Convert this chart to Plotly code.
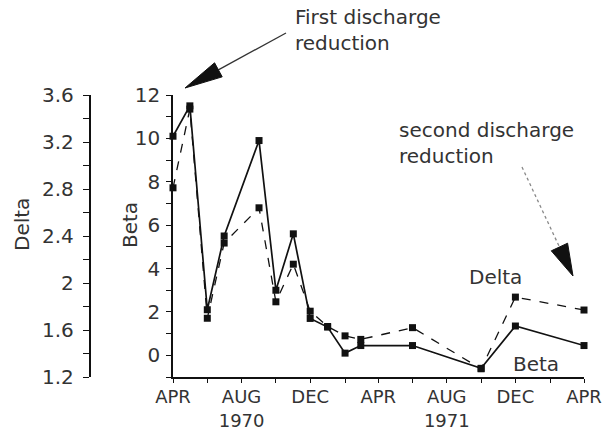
import plotly.graph_objects as go

# ---- data ----
dates = ["1970-04-01", "1970-05-01", "1970-06-01", "1970-07-01", "1970-09-01",
         "1970-10-01", "1970-11-01", "1970-12-01", "1971-01-01", "1971-02-01",
         "1971-03-01", "1971-06-01", "1971-10-01", "1971-12-01", "1972-04-01"]
beta = [10.1, 11.5, 2.1, 5.5, 9.9, 3.0, 5.6, 1.7, 1.3, 0.1, 0.45, 0.45, -0.6, 1.35, 0.45]
delta = [2.81, 3.48, 1.70, 2.34, 2.64, 1.84, 2.16, 1.76, 1.63, 1.55, 1.52, 1.62, 1.27, 1.88, 1.77]

x_tickvals = ["1970-04-01", "1970-08-01", "1970-12-01", "1971-04-01",
              "1971-08-01", "1971-12-01", "1972-04-01"]
x_ticktext = ["APR", "AUG<br>1970", "DEC", "APR", "AUG<br>1971", "DEC", "APR"]
beta_ticks = [0, 2, 4, 6, 8, 10, 12]
delta_ticks = [1.2, 1.6, 2.0, 2.4, 2.8, 3.2, 3.6]
delta_ticktext = ["1.2", "1.6", "2", "2.4", "2.8", "3.2", "3.6"]

W, H = 610, 429
FONT = "DejaVu Sans"
TXT = "#333333"
FS = 20

def px(x):
    return x / W

def py(y):
    return (H - y) / H

fig = go.Figure()
fig.add_trace(go.Scatter(
    x=dates, y=delta, yaxis="y2", mode="lines+markers", name="Delta",
    line=dict(color="#111111", width=1.3, dash="dash"),
    marker=dict(symbol="square", size=7, color="#111111"),
    cliponaxis=False))
fig.add_trace(go.Scatter(
    x=dates, y=beta, mode="lines+markers", name="Beta",
    line=dict(color="#111111", width=1.7),
    marker=dict(symbol="square", size=7, color="#111111"),
    cliponaxis=False))

axis_common = dict(showgrid=False, zeroline=False, showline=True, linecolor="#111111",
                   linewidth=1.5, ticks="outside", tickcolor="#111111", tickwidth=1)

fig.update_layout(
    width=W, height=H, margin=dict(l=0, r=0, t=0, b=0),
    paper_bgcolor="white", plot_bgcolor="white", showlegend=False,
    font=dict(family=FONT, size=FS, color=TXT),
    xaxis=dict(domain=[px(173), px(584)], range=["1970-04-01", "1972-04-01"],
               tickmode="array", tickvals=x_tickvals, ticktext=x_ticktext,
               ticklen=4, ticklabelstandoff=-1,
               tickfont=dict(family=FONT, size=18, color=TXT),
               minor=dict(tickvals=["1970-06-01", "1970-10-01", "1971-02-01",
                                    "1971-06-01", "1971-10-01", "1972-02-01"],
                          ticks="outside", ticklen=4, tickcolor="#111111"),
               automargin=False, **axis_common),
    yaxis=dict(domain=[py(377), py(95)], range=[-1, 12], tickmode="array",
               tickvals=beta_ticks, ticklen=5, ticklabelstandoff=2,
               tickfont=dict(family=FONT, size=FS, color=TXT),
               minor=dict(dtick=1, tick0=-1, ticks="outside", ticklen=5, tickcolor="#111111"),
               automargin=False, **axis_common),
    yaxis2=dict(overlaying="y", anchor="free", position=px(89.5), side="left",
                range=[1.2, 3.6], tickmode="array", tickvals=delta_ticks,
                ticktext=delta_ticktext, ticklen=6, ticklabelstandoff=5,
                tickfont=dict(family=FONT, size=FS, color=TXT),
                minor=dict(dtick=0.2, tick0=1.2, ticks="outside", ticklen=6, tickcolor="#111111"),
                automargin=False, **axis_common),
)

ann_font = dict(family=FONT, size=FS, color=TXT)
annotations = [
    dict(x=px(22), y=py(225), xref="paper", yref="paper", text="Delta", textangle=-90,
         xanchor="center", yanchor="middle", showarrow=False, font=ann_font),
    dict(x=px(130), y=py(225), xref="paper", yref="paper", text="Beta", textangle=-90,
         xanchor="center", yanchor="middle", showarrow=False, font=ann_font),
    dict(x=px(293), y=py(30), xref="paper", yref="paper", xanchor="left", yanchor="middle",
         align="left", text="First discharge<br>reduction", showarrow=False, font=ann_font),
    dict(x=px(397), y=py(143), xref="paper", yref="paper", xanchor="left", yanchor="middle",
         align="left", text="second discharge<br>reduction", showarrow=False, font=ann_font),
    dict(x=px(495), y=py(277), xref="paper", yref="paper", text="Delta",
         xanchor="center", yanchor="middle", showarrow=False, font=ann_font),
    dict(x=px(536), y=py(364), xref="paper", yref="paper", text="Beta",
         xanchor="center", yanchor="middle", showarrow=False, font=ann_font),
]
fig.update_layout(annotations=annotations)

# arrows (annotation decorations): shaft line + filled head
def arrow(tail, tip, head_len, half_w, color, width, dash):
    dx, dy = tip[0] - tail[0], tip[1] - tail[1]
    n = (dx * dx + dy * dy) ** 0.5
    ux, uy = dx / n, dy / n
    bx, by = tip[0] - head_len * ux, tip[1] - head_len * uy
    pxv, pyv = -uy * half_w, ux * half_w
    fig.add_shape(type="line", xref="paper", yref="paper",
                  x0=px(tail[0]), y0=py(tail[1]), x1=px(bx), y1=py(by),
                  line=dict(color=color, width=width, dash=dash))
    path = "M {:.5f},{:.5f} L {:.5f},{:.5f} L {:.5f},{:.5f} Z".format(
        px(tip[0]), py(tip[1]), px(bx + pxv), py(by + pyv), px(bx - pxv), py(by - pyv))
    fig.add_shape(type="path", xref="paper", yref="paper", path=path,
                  fillcolor="#111111", line=dict(color="#111111", width=1))

arrow((286, 33), (185, 88), 38, 8, "#333333", 1.3, "solid")
arrow((522, 167), (573, 276), 32, 9, "#888888", 1.3, "dot")

fig.write_html("out.html", config={"displayModeBar": False},
               post_script="document.body.style.margin='0';")
